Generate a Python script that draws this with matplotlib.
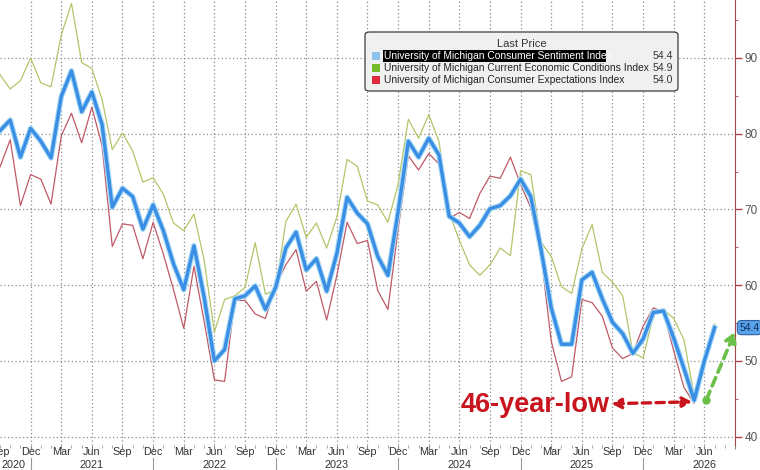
import numpy as np
import matplotlib.pyplot as plt
import matplotlib.patheffects as pe
import matplotlib.transforms as mtransforms
from matplotlib.patches import FancyBboxPatch, Rectangle

plt.rcParams['font.family'] = ['Liberation Sans', 'DejaVu Sans']

# monthly readings, Sep 2020 .. Jul 2026
start_year, start_month = 2020, 9
month_names = ["Jan", "Feb", "Mar", "Apr", "May", "Jun",
               "Jul", "Aug", "Sep", "Oct", "Nov", "Dec"]

sentiment = [80.4, 81.8, 76.9, 80.7,
             79.0, 76.8, 84.9, 88.3, 82.9, 85.5, 81.2, 70.3, 72.8, 71.7, 67.4, 70.6,
             67.2, 62.8, 59.4, 65.2, 58.4, 50.0, 51.5, 58.2, 58.6, 59.9, 56.8, 59.7,
             64.9, 67.0, 62.0, 63.5, 59.2, 64.2, 71.6, 69.5, 68.1, 63.8, 61.3, 69.7,
             79.0, 76.9, 79.4, 77.2, 69.1, 68.2, 66.4, 67.9, 70.1, 70.5, 71.8, 74.0,
             71.7, 64.7, 57.0, 52.2, 52.2, 60.7, 61.7, 58.2, 55.1, 53.6, 51.0, 52.9,
             56.4, 56.6, 53.0, 49.0, 44.8, 50.0, 54.4]

current = [87.8, 85.9, 87.0, 90.0,
           86.7, 86.2, 93.0, 97.2, 89.4, 88.6, 84.5, 77.9, 80.1, 77.7, 73.6, 74.2,
           72.0, 68.2, 67.2, 69.4, 63.3, 53.8, 58.1, 58.6, 59.7, 65.6, 58.8, 59.4,
           68.4, 70.7, 66.3, 68.2, 64.9, 69.0, 76.6, 75.7, 71.1, 70.6, 68.3, 73.3,
           81.9, 79.4, 82.5, 79.0, 69.6, 65.9, 62.7, 61.3, 62.7, 64.9, 63.9, 75.1,
           74.6, 65.7, 63.8, 59.8, 58.9, 64.8, 68.0, 61.7, 60.4, 58.6, 51.1, 50.4,
           56.0, 56.8, 55.6, 52.8, 45.4, 50.4, 54.9]

expectations = [75.6, 79.2, 70.5, 74.6,
                74.0, 70.7, 79.7, 82.7, 78.8, 83.5, 78.4, 65.1, 68.1, 67.9, 63.5, 68.3,
                64.1, 59.4, 54.3, 62.5, 55.2, 47.5, 47.3, 58.0, 58.0, 56.2, 55.6, 59.9,
                62.7, 64.7, 59.2, 60.5, 55.4, 61.3, 68.3, 65.5, 65.9, 59.3, 56.8, 67.4,
                77.1, 75.2, 77.4, 76.0, 68.8, 69.6, 68.8, 72.1, 74.4, 74.1, 76.9, 73.3,
                70.2, 64.0, 52.6, 47.3, 47.9, 58.1, 57.7, 55.9, 51.7, 50.3, 51.0, 54.6,
                57.0, 56.5, 51.3, 46.5, 44.4, 49.6, 54.0]

series_names = ["University of Michigan Consumer Sentiment Index",
                "University of Michigan Current Economic Conditions Index",
                "University of Michigan Consumer Expectations Index"]
swatch_colors = ["#8cc2f0", "#74bd2a", "#e0283f"]

x = np.arange(len(sentiment))

fig = plt.figure(figsize=(7.6, 4.7), dpi=100)
ax = fig.add_axes([0, 1 - 445 / 470, 735 / 760, 445 / 470])

ax.plot(x, current, color="#b3c66a", lw=0.9, zorder=3)
ax.plot(x, expectations, color="#bf5a68", lw=0.9, zorder=3)
ax.plot(x, sentiment, color="#3a8ee3", lw=2.4, zorder=4,
        path_effects=[pe.Stroke(linewidth=4.0, foreground="#a8daf6"), pe.Normal()])

ax.set_xlim(0.38, 71.67)
ax.set_ylim(38.9, 97.65)

# quarter ticks / grid
quarters = [i for i in range(len(x) + 3) if (start_month - 1 + i) % 12 in (2, 5, 8, 11)]
ax.set_xticks([q for q in quarters if q > 0.38])
ax.set_xticklabels([])
ax.set_xticks(np.arange(0, 72), minor=True)
ax.tick_params(axis="x", which="major", length=3, color="#888888")
ax.tick_params(axis="x", which="minor", length=2, color="#999999")

ax.yaxis.tick_right()
ax.set_yticks(range(40, 100, 10))
ax.set_yticks(range(45, 100, 10), minor=True)
ax.tick_params(axis="y", which="major", direction="out", length=5, width=1,
               color="#b04444", labelsize=8.5, labelcolor="#555555", pad=2)
ax.tick_params(axis="y", which="minor", direction="out", length=2.5,
               color="#b04444")

for s in ["top", "left", "bottom"]:
    ax.spines[s].set_visible(False)
ax.spines["right"].set_color("#a84a4a")

# dotted grid drawn as plain lines
for q in ax.get_xticks():
    ax.axvline(q, color="#8c8c8c", lw=0.9, linestyle=(0, (1, 2)), zorder=1)
for v in range(40, 100, 10):
    ax.axhline(v, color="#8c8c8c", lw=0.9, linestyle=(0, (1, 2)), zorder=1)

blend = mtransforms.blended_transform_factory(ax.transData, ax.transAxes)
for q in quarters:
    if q > 71.6:
        continue
    ax.text(q, -0.016, month_names[(start_month - 1 + q) % 12], transform=blend,
            ha="center", va="center", fontsize=7.8, color="#333333", clip_on=False)
    if (start_month - 1 + q) % 12 == 11:
        ax.plot([q, q], [-0.03, -0.06], transform=blend, color="#999999",
                lw=0.8, clip_on=False)

years = sorted(set(start_year + (start_month - 1 + i) // 12 for i in x))
for yr in years:
    if yr == start_year:
        pos = 1.35
    else:
        pos = (yr - start_year) * 12 + 5 - (start_month - 1)
    ax.text(pos, -0.045, str(yr), transform=blend, ha="center", va="center",
            fontsize=7.8, color="#333333", clip_on=False)

# last value tag
blend_y = mtransforms.blended_transform_factory(ax.transAxes, ax.transData)
ax.text(1.006, sentiment[-1], f"{sentiment[-1]:.1f}", transform=blend_y,
        ha="left", va="center", fontsize=7.5, color="#0d2c5c",
        bbox=dict(boxstyle="round,pad=0.2,rounding_size=0.4", fc="#5aa2ec",
                  ec="#2d5f9e", lw=0.8), clip_on=False, zorder=6)

# annotations
i_min = int(np.argmin(sentiment))
v_min = sentiment[i_min]
red = "#c8141c"
ax.text(i_min - 8.3, v_min - 0.6, "46-year-low", ha="right", va="center",
        fontsize=19.5, fontweight="bold", color=red, zorder=6)
ax.annotate("", xy=(i_min - 0.2, v_min - 0.2), xytext=(i_min - 8.1, v_min - 0.45),
            arrowprops=dict(arrowstyle="<|-|>,head_length=0.55,head_width=0.3",
                            color=red, lw=2.4, linestyle=(0, (2.5, 1.6)),
                            shrinkA=0, shrinkB=0), zorder=6)

green = "#6cbf48"
ax.plot([i_min + 1.2], [v_min + 0.1], "o", color=green, ms=5, zorder=6)
ax.annotate("", xy=(len(x) + 1.0, sentiment[-1] - 0.55), xytext=(i_min + 1.2, v_min + 0.1),
            arrowprops=dict(arrowstyle="-|>,head_length=0.6,head_width=0.35",
                            color=green, lw=2.6, linestyle=(0, (2.5, 1.6)),
                            shrinkA=0, shrinkB=0), zorder=6)

# legend box
def fx(px):
    return px / 760

def fy(py):
    return 1 - py / 470

fig.patches.append(FancyBboxPatch((fx(365), fy(91)), fx(313), 59 / 470,
                                  boxstyle="round,pad=0,rounding_size=0.006",
                                  transform=fig.transFigure, fc="#f0f0f0",
                                  ec="#3c3c3c", lw=0.9, zorder=10))
fig.text(fx(522), fy(44), "Last Price", ha="center", va="center", fontsize=8,
         color="#333333", zorder=11)
fig.patches.append(Rectangle((fx(383), fy(62)), fx(223), 12 / 470,
                             transform=fig.transFigure, fc="black", ec="none",
                             zorder=11))
last_vals = [sentiment[-1], current[-1], expectations[-1]]
for k, (name, col, val) in enumerate(zip(series_names, swatch_colors, last_vals)):
    ry = 56 + 12 * k
    fig.patches.append(Rectangle((fx(372), fy(ry + 4)), fx(8), 8 / 470,
                                 transform=fig.transFigure, fc=col, ec="none",
                                 zorder=11))
    fig.text(fx(384), fy(ry), name, ha="left", va="center", fontsize=7.35,
             color="white" if k == 0 else "#222222", zorder=12)
    fig.text(fx(673), fy(ry), f"{val:.1f}", ha="right", va="center", fontsize=7.6,
             color="#333333", zorder=12)

fig.savefig("out.png", dpi=100)
plt.close(fig)
